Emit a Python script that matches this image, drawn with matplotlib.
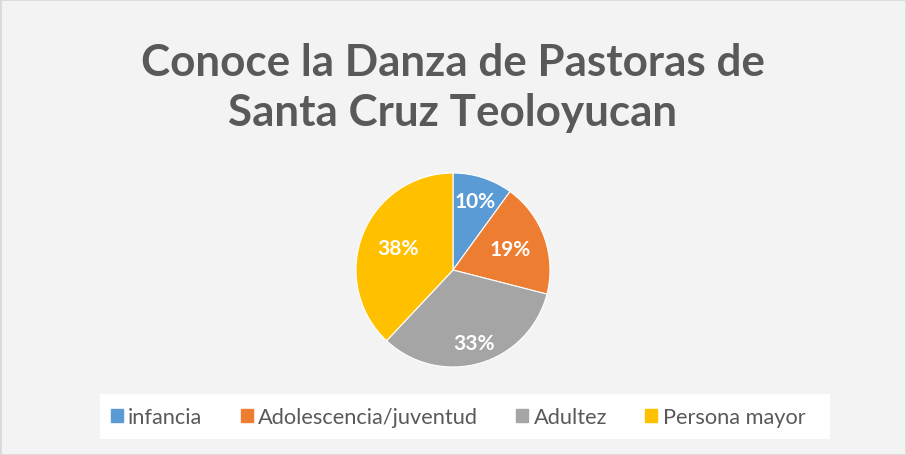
import matplotlib
matplotlib.use("Agg")
import matplotlib.pyplot as plt
import numpy as np
from matplotlib.patches import Rectangle

title = "Conoce la Danza de Pastoras de\nSanta Cruz Teoloyucan"
categories = ["infancia", "Adolescencia/juventud", "Adultez", "Persona mayor"]
values = [10, 19, 33, 38]
colors = ["#5B9BD5", "#ED7D31", "#A5A5A5", "#FFC000"]
label_dist = [0.75, 0.63, 0.78, 0.61]

W, H = 906, 456
fig = plt.figure(figsize=(W / 100, H / 100), dpi=100)
fig.patch.set_facecolor("#f3f3f3")
fig.patches.append(Rectangle((0, 0), 1, 1, transform=fig.transFigure,
                             fill=False, edgecolor="#d9d9d9", linewidth=2))

fig.text(453 / W, 1 - 88 / H, title, ha="center", va="center",
         fontsize=31.7, fontweight="bold", color="#595959",
         family=["Lato", "DejaVu Sans"], linespacing=1.32)

cx, cy, r = 453, 271, 97
ax = fig.add_axes([(cx - r) / W, (H - cy - r) / H, 2 * r / W, 2 * r / H])
wedges, _ = ax.pie(values, colors=colors, startangle=90, counterclock=False,
                   wedgeprops=dict(linewidth=0.8, edgecolor="white"))
ax.set_aspect("equal")
ax.set_xlim(-1, 1)
ax.set_ylim(-1, 1)

total = sum(values)
start = 90.0
for v, d in zip(values, label_dist):
    ang = np.deg2rad(start - v / total * 360 / 2)
    ax.text(d * np.cos(ang), d * np.sin(ang), f"{round(v / total * 100)}%",
            ha="center", va="center", color="white", fontsize=15,
            fontweight="bold", family=["Lato", "DejaVu Sans"])
    start -= v / total * 360

# legend box
fig.patches.append(Rectangle((100 / W, 1 - 440 / H), 730 / W, 45 / H,
                             transform=fig.transFigure, facecolor="white",
                             edgecolor="none", zorder=0))
handles = [plt.Rectangle((0, 0), 1, 1, color=c) for c in colors]
leg = fig.legend(handles, categories, loc="center", ncol=4,
                 bbox_to_anchor=(458 / W, 1 - 418 / H), frameon=False,
                 handlelength=0.55, handleheight=0.55, handletextpad=0.25,
                 columnspacing=1.75,
                 prop=dict(family=["Lato", "DejaVu Sans"], size=15.7))
for t in leg.get_texts():
    t.set_color("#595959")

fig.savefig("out.png", dpi=100, facecolor=fig.get_facecolor())
